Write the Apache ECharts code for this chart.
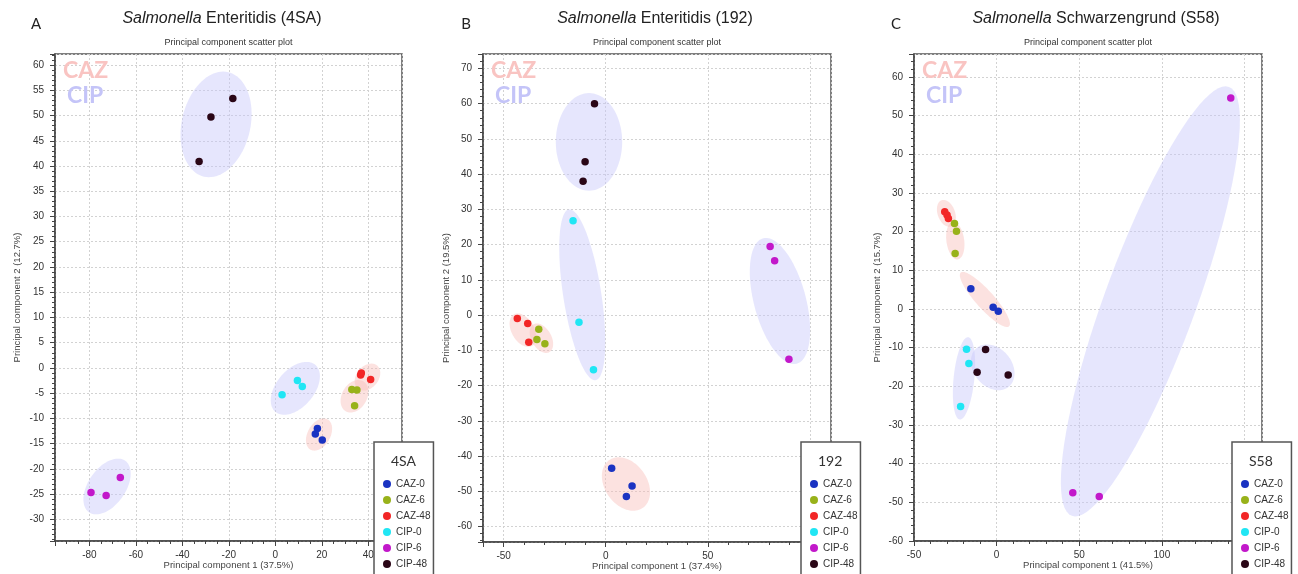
<!DOCTYPE html>
<html>
<head>
<meta charset="utf-8">
<script src="https://cdn.jsdelivr.net/npm/echarts@6/dist/echarts.min.js"></script>
<style>
html,body{margin:0;padding:0;background:#fff;}
#chart{width:1298px;height:574px;}
</style>
</head>
<body>
<div id="chart"></div>
<script>
// ---------- DATA ----------
const groups = ['CAZ-0', 'CAZ-6', 'CAZ-48', 'CIP-0', 'CIP-6', 'CIP-48'];

// Panel A: Salmonella Enteritidis (4SA)
const pointsA_CAZ0  = [[18.1, -12.0], [17.2, -13.1], [20.2, -14.3]];
const pointsA_CAZ6  = [[32.9, -4.3], [35.1, -4.4], [34.1, -7.5]];
const pointsA_CAZ48 = [[36.7, -1.4], [37.0, -1.0], [41.0, -2.3]];
const pointsA_CIP0  = [[9.5, -2.5], [11.6, -3.7], [2.9, -5.3]];
const pointsA_CIP6  = [[-79.3, -24.7], [-72.8, -25.3], [-66.7, -21.7]];
const pointsA_CIP48 = [[-32.8, 40.9], [-27.7, 49.7], [-18.3, 53.4]];

// Panel B: Salmonella Enteritidis (192)
const pointsB_CAZ0  = [[2.9, -43.5], [12.9, -48.5], [10.1, -51.5]];
const pointsB_CAZ6  = [[-32.8, -4.0], [-33.7, -6.9], [-29.8, -8.1]];
const pointsB_CAZ48 = [[-43.3, -1.0], [-38.2, -2.4], [-37.7, -7.7]];
const pointsB_CIP0  = [[-16.0, 26.8], [-13.1, -2.0], [-6.0, -15.5]];
const pointsB_CIP6  = [[80.5, 19.5], [82.7, 15.4], [89.7, -12.5]];
const pointsB_CIP48 = [[-5.5, 60.0], [-10.1, 43.5], [-11.1, 38.0]];

// Panel C: Salmonella Schwarzengrund (S58)
const pointsC_CAZ0  = [[-15.6, 5.2], [-2.1, 0.4], [1.0, -0.6]];
const pointsC_CAZ6  = [[-25.5, 22.1], [-24.3, 20.1], [-25.1, 14.3]];
const pointsC_CAZ48 = [[-31.4, 25.1], [-30.0, 24.3], [-29.2, 23.4]];
const pointsC_CIP0  = [[-18.2, -10.4], [-16.8, -14.1], [-21.8, -25.2]];
const pointsC_CIP6  = [[141.7, 54.5], [46.1, -47.5], [62.1, -48.5]];
const pointsC_CIP48 = [[-6.7, -10.5], [-11.8, -16.4], [7.0, -17.1]];

// Group ellipses: major-axis end points (data units) and minor/major ratio
const ellipsesA_CAZ = [[22.5, -10.2, 15.1, -16.2, 0.65], [37.8, -2.65, 30.3, -8.6, 0.72], [43.8, 0.46, 35.5, -4.1, 0.73]];
const ellipsesA_CIP = [[17.2, 0.6, 0.0, -8.7, 0.61], [-64.6, -18.4, -80.2, -28.6, 0.59], [-20.3, 58.6, -30.7, 37.9, 0.64]];
const ellipsesB_CAZ = [[1.6, -41.2, 18.2, -54.7, 0.72], [-35.4, -2.6, -27.6, -10.5, 0.62], [-45.0, 0.2, -36.1, -8.75, 0.62]];
const ellipsesB_CIP = [[-18.0, 30.0, -5.0, -18.5, 0.22], [77.1, 21.8, 93.5, -13.8, 0.40], [-8.2, 63.0, -8.2, 35.3, 0.68]];
const ellipsesC_CAZ = [[-21.7, 9.4, 7.5, -4.5, 0.25], [-26.5, 22.5, -23.5, 12.8, 0.47], [-33.3, 28.1, -27.5, 21.3, 0.62]];
const ellipsesC_CIP = [[-17.2, -7.3, -22.3, -28.6, 0.25], [45.5, -53.5, 140.6, 57.4, 0.2], [-12.1, -10.1, 7.4, -20.1, 0.76]];

// Text
const panelLetters = ['A', 'B', 'C'];
const panelTitles = ['Enteritidis (4SA)', 'Enteritidis (192)', 'Schwarzengrund (S58)'];
const legendTitles = ['4SA', '192', 'S58'];
const xNames = ['Principal component 1 (37.5%)', 'Principal component 1 (37.4%)', 'Principal component 1 (41.5%)'];
const yNames = ['Principal component 2 (12.7%)', 'Principal component 2 (19.5%)', 'Principal component 2 (15.7%)'];
const subTitle = 'Principal component scatter plot';

// ---------- STYLE / LAYOUT ----------
const colors = ['#1a33c2', '#98b21a', '#f22626', '#20e6f4', '#c218ca', '#2a0616'];
const FONT = '"Liberation Sans", Arial, sans-serif';
const CAL = 'Lato, "Open Sans", sans-serif';

const panels = [
  {
    pts: [pointsA_CAZ0, pointsA_CAZ6, pointsA_CAZ48, pointsA_CIP0, pointsA_CIP6, pointsA_CIP48],
    ellCAZ: ellipsesA_CAZ, ellCIP: ellipsesA_CIP,
    grid: {left: 55, top: 54, width: 347, height: 487},
    x: {min: -94.8, max: 54.5, step: 20, minor: 4, showMin: false},
    y: {min: -34.3, max: 62.2, step: 5, minor: 5, showMin: false},
    yGap: 33, letterX: 36, titleX: 222, legendLeft: 374
  },
  {
    pts: [pointsB_CAZ0, pointsB_CAZ6, pointsB_CAZ48, pointsB_CIP0, pointsB_CIP6, pointsB_CIP48],
    ellCAZ: ellipsesB_CAZ, ellCIP: ellipsesB_CIP,
    grid: {left: 483, top: 54, width: 348, height: 488},
    x: {min: -60.1, max: 110.3, step: 50, minor: 5, showMin: false},
    y: {min: -64.4, max: 74.1, step: 10, minor: 5, showMin: false},
    yGap: 32, letterX: 466, titleX: 655, legendLeft: 801
  },
  {
    pts: [pointsC_CAZ0, pointsC_CAZ6, pointsC_CAZ48, pointsC_CIP0, pointsC_CIP6, pointsC_CIP48],
    ellCAZ: ellipsesC_CAZ, ellCIP: ellipsesC_CIP,
    grid: {left: 914, top: 54, width: 348, height: 487},
    x: {min: -50, max: 160.6, step: 50, minor: 5, showMin: true},
    y: {min: -60, max: 65.9, step: 10, minor: 5, showMin: true},
    yGap: 32, letterX: 896, titleX: 1096, legendLeft: 1232
  }
];

function axisCommon(cfg, gi, name, gap, isX) {
  return {
    gridIndex: gi, type: 'value', min: cfg.min, max: cfg.max,
    minInterval: cfg.step, maxInterval: cfg.step,
    splitNumber: Math.round((cfg.max - cfg.min) / cfg.step),
    name: name, nameLocation: 'middle', nameGap: gap, nameMoveOverlap: false,
    nameTextStyle: {fontFamily: FONT, fontSize: 9.5, color: '#444'},
    axisLine: {show: true, onZero: false, lineStyle: {color: '#444', width: 1.5}},
    axisTick: {show: true, inside: false, length: 5, lineStyle: {color: '#444', width: 1}},
    minorTick: {show: true, splitNumber: cfg.minor, length: 3, lineStyle: {color: '#444', width: 1}},
    minorSplitLine: {show: false},
    axisLabel: {fontFamily: FONT, fontSize: 10, color: '#333', margin: isX ? 9 : 11,
                showMinLabel: cfg.showMin, showMaxLabel: false},
    splitLine: {show: true, lineStyle: {color: '#d2d2d2', width: 1, type: [2, 2]}}
  };
}

function ellipseRenderer(fill) {
  return function (params, api) {
    const p1 = api.coord([api.value(0), api.value(1)]);
    const p2 = api.coord([api.value(2), api.value(3)]);
    const r = api.value(4);
    const cx = (p1[0] + p2[0]) / 2, cy = (p1[1] + p2[1]) / 2;
    const ux = (p2[0] - p1[0]) / 2, uy = (p2[1] - p1[1]) / 2;
    const vx = -uy * r, vy = ux * r;
    const pts = [];
    for (let k = 0; k < 90; k++) {
      const t = k / 90 * Math.PI * 2;
      pts.push([cx + ux * Math.cos(t) + vx * Math.sin(t), cy + uy * Math.cos(t) + vy * Math.sin(t)]);
    }
    return {type: 'polygon', shape: {points: pts}, style: {fill: fill, stroke: null}};
  };
}

const grids = [], xAxes = [], yAxes = [], series = [], legends = [], graphics = [];

panels.forEach((p, i) => {
  grids.push(Object.assign({show: true, borderColor: '#555', borderWidth: 1.5, backgroundColor: '#fff',
                            containLabel: false, outerBoundsMode: 'none'}, p.grid));
  xAxes.push(axisCommon(p.x, i, xNames[i], 19, true));
  yAxes.push(axisCommon(p.y, i, yNames[i], p.yGap, false));

  series.push({
    type: 'custom', name: 'ellCAZ' + i, xAxisIndex: i, yAxisIndex: i, z: 1,
    renderItem: ellipseRenderer('rgba(247,185,180,0.42)'),
    encode: {x: [0, 2], y: [1, 3]}, data: p.ellCAZ, silent: true
  });
  series.push({
    type: 'custom', name: 'ellCIP' + i, xAxisIndex: i, yAxisIndex: i, z: 1,
    renderItem: ellipseRenderer('rgba(200,200,250,0.45)'),
    encode: {x: [0, 2], y: [1, 3]}, data: p.ellCIP, silent: true
  });
  groups.forEach((g, k) => {
    series.push({
      type: 'scatter', name: g, xAxisIndex: i, yAxisIndex: i, z: 3,
      symbol: 'circle', symbolSize: 7.5,
      itemStyle: {color: colors[k], opacity: 1},
      data: p.pts[k]
    });
  });

  legends.push({
    left: p.legendLeft, top: 442, height: 140, orient: 'vertical',
    data: groups.map(g => ({name: g, icon: 'circle'})),
    backgroundColor: '#fff', borderColor: '#555', borderWidth: 1.5,
    padding: [36, 3, 8, 9], itemWidth: 8, itemHeight: 8, itemGap: 4,
    selectedMode: false,
    itemStyle: {opacity: 1},
    textStyle: {fontFamily: FONT, fontSize: 10, color: '#333', lineHeight: 12}
  });

  const gcx = p.grid.left + p.grid.width / 2;
  graphics.push(
    {type: 'text', z: 100, style: {x: p.letterX, y: 24, text: panelLetters[i], align: 'center', verticalAlign: 'middle',
      font: '15px ' + CAL, fill: '#222'}},
    {type: 'text', z: 100, style: {x: p.titleX, y: 19, text: '{i|Salmonella} ' + panelTitles[i], align: 'center',
      verticalAlign: 'middle', font: '16px ' + FONT, fill: '#222',
      rich: {i: {fontStyle: 'italic', fontFamily: FONT, fontSize: 16, fill: '#222', color: '#222'}}}},
    {type: 'text', z: 100, style: {x: gcx, y: 43, text: subTitle, align: 'center', verticalAlign: 'middle',
      font: '9px ' + FONT, fill: '#333'}},
    {type: 'text', z: 100, style: {x: p.grid.left + 8, y: 71, text: 'CAZ', align: 'left', verticalAlign: 'middle',
      font: 'bold 23px ' + CAL, fill: '#f9c4c2'}},
    {type: 'text', z: 100, style: {x: p.grid.left + 12, y: 96, text: 'CIP', align: 'left', verticalAlign: 'middle',
      font: 'bold 23px ' + CAL, fill: '#c4c4f8'}},
    {type: 'text', z: 100, style: {x: p.legendLeft + 17, y: 461, text: legendTitles[i], align: 'left', verticalAlign: 'middle',
      font: '14px ' + CAL, fill: '#333'}}
  );
});

const chart = echarts.init(document.getElementById('chart'), null, {renderer: 'canvas'});
chart.setOption({
  animation: false,
  backgroundColor: '#fff',
  grid: grids,
  xAxis: xAxes,
  yAxis: yAxes,
  legend: legends,
  series: series,
  graphic: {elements: graphics}
});
</script>
</body>
</html>
